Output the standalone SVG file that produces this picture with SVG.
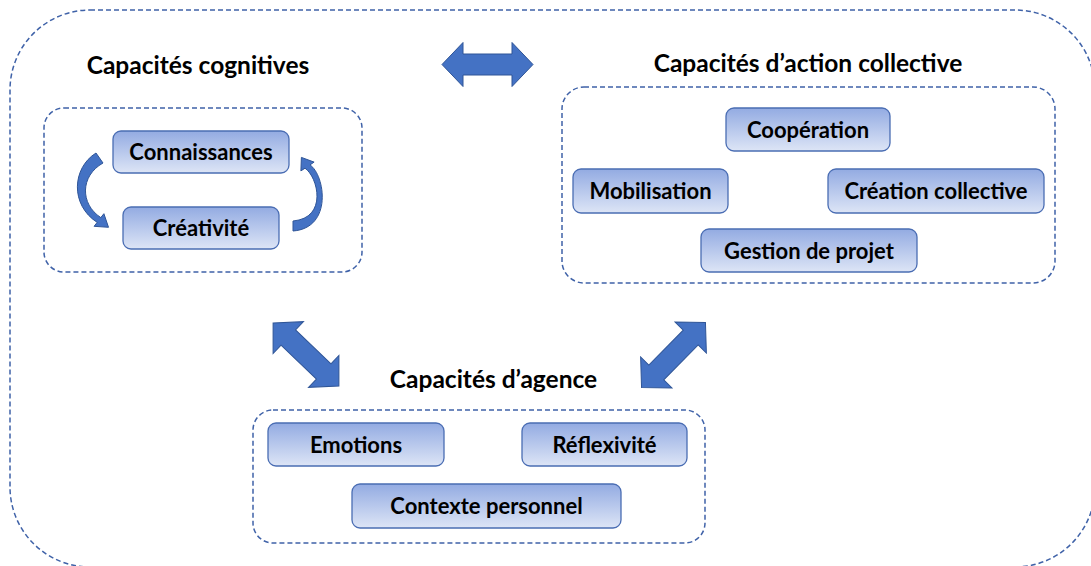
<svg xmlns="http://www.w3.org/2000/svg" width="1091" height="566" viewBox="0 0 1091 566">
<defs>
<linearGradient id="g" x1="0" y1="0" x2="0" y2="1">
<stop offset="0" stop-color="#93ABE2"/>
<stop offset="1" stop-color="#DDE5F6"/>
</linearGradient>
<path id="dbl" d="M -45.5,0 L -24.5,-22 L -24.5,-10.5 L 24.5,-10.5 L 24.5,-22 L 45.5,0 L 24.5,22 L 24.5,10.5 L -24.5,10.5 L -24.5,22 Z"/>
</defs>
<style>
.dash{fill:none;stroke:#3F62A8;stroke-width:1.5;stroke-dasharray:5 3}
.node rect{fill:url(#g);stroke:#4A6DB3;stroke-width:1.3}
.node text{font-family:Lato,"Open Sans",sans-serif;font-weight:bold;font-size:22px;fill:#000;text-anchor:middle}
.title{font-family:Lato,"Open Sans",sans-serif;font-weight:bold;font-size:24.5px;fill:#000;text-anchor:middle}
.arr{fill:#4472C4;stroke:#2F5597;stroke-width:1}
</style>
<rect id="outer" class="dash" x="10" y="10" width="1085" height="557" rx="80"/>

<g id="cognitive">
<rect class="dash" x="44" y="108" width="318" height="164" rx="20"/>
<text class="title" x="198" y="74">Capacités cognitives</text>
</g>
<g id="action">
<rect class="dash" x="562" y="87" width="493" height="196" rx="22"/>
<text class="title" x="808" y="72">Capacités d’action collective</text>
</g>
<g id="agence">
<rect class="dash" x="253" y="410" width="452" height="133" rx="20"/>
<text class="title" x="493.5" y="388">Capacités d’agence</text>
</g>

<g id="n-connaissances" class="node"><rect x="113" y="131" width="176" height="42" rx="8"/><text x="201" y="160">Connaissances</text></g>
<g id="n-creativite" class="node"><rect x="123" y="207" width="156" height="42" rx="8"/><text x="201" y="236">Créativité</text></g>
<g id="n-cooperation" class="node"><rect x="726" y="108" width="164" height="43" rx="8"/><text x="808" y="137.5">Coopération</text></g>
<g id="n-mobilisation" class="node"><rect x="573" y="169" width="155" height="44" rx="8"/><text x="650.5" y="199">Mobilisation</text></g>
<g id="n-creation" class="node"><rect x="828" y="169" width="216" height="44" rx="8"/><text x="936" y="199">Création collective</text></g>
<g id="n-gestion" class="node"><rect x="701" y="229" width="216" height="43" rx="8"/><text x="809" y="258.5">Gestion de projet</text></g>
<g id="n-emotions" class="node"><rect x="268" y="423" width="176" height="43" rx="8"/><text x="356" y="452.5">Emotions</text></g>
<g id="n-reflexivite" class="node"><rect x="522" y="423" width="165" height="43" rx="8"/><text x="604.5" y="452.5">Réflexivité</text></g>
<g id="n-contexte" class="node"><rect x="352" y="484" width="269" height="44" rx="8"/><text x="486.5" y="514">Contexte personnel</text></g>

<g id="connectors">
<use href="#dbl" class="arr" transform="translate(487.5,64.5)"/>
<use href="#dbl" class="arr" transform="translate(306,354.5) rotate(43.7)"/>
<use href="#dbl" class="arr" transform="translate(673.5,355) rotate(-45.4)"/>
<path class="arr" d="M 96,153 C 72,168 70,205 97.2,222.4 L 94.1,226.3 L 108.5,227.3 L 103.9,213.7 L 100.8,217.6 C 80,204 80,176 103,163 Z"/>
<path class="arr" d="M 293,231 C 333,228 325,175 310,164.9 L 314.1,162.1 L 301.4,157.4 L 300.9,170.9 L 305,168.2 C 318,177 328,218 293,221 Z"/>
</g>
</svg>
